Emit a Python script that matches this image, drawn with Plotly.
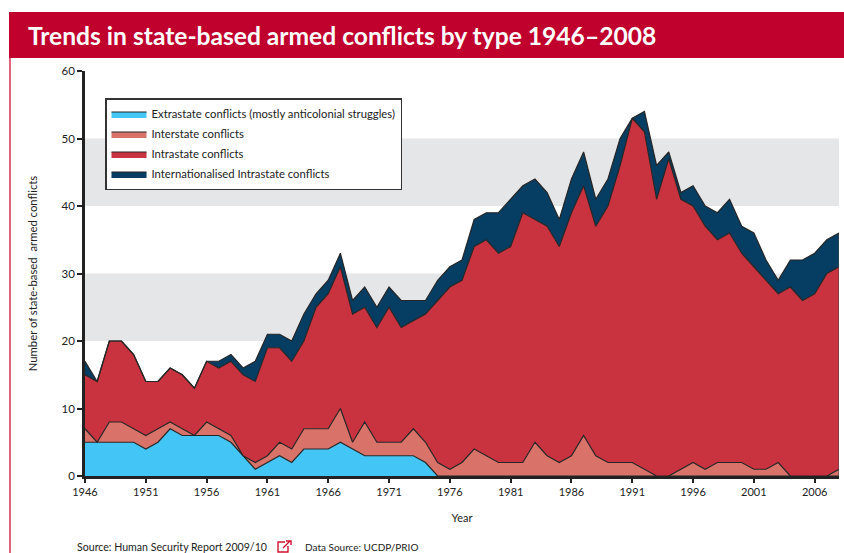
import plotly.graph_objects as go

years = list(range(1946, 2009))
extrastate = [5,5,5,5,5,4,5,7,6,6,6,6,5,3,1,2,3,2,4,4,4,5,4,3,3,3,3,3,2,0] + [0] * 33
interstate = [2,0,3,3,2,2,2,1,1,0,2,1,1,0,1,1,2,2,3,3,3,5,1,5,2,2,2,4,3,2,1,2,4,3,2,2,2,5,3,2,3,6,3,2,2,2,1,0,0,1,2,1,2,2,2,1,1,2,0,0,0,0,1]
intrastate = [8,9,12,12,11,8,7,8,8,7,9,9,11,12,12,16,14,13,13,18,20,21,19,17,17,20,17,16,19,24,27,27,30,32,31,32,37,33,34,32,36,37,34,38,44,51,50,41,47,40,38,36,33,34,31,30,28,25,28,26,27,30,30]
internationalised = [2,0,0,0,0,0,0,0,0,0,0,1,1,1,3,2,2,3,4,2,2,2,2,3,3,3,4,3,2,3,3,3,4,4,6,7,4,6,5,4,5,5,4,4,4,0,3,5,1,1,3,3,4,5,4,5,3,2,4,6,6,5,5]
x_ticks = list(range(1946, 2007, 5))
y_ticks = [0, 10, 20, 30, 40, 50, 60]
bands = [(20, 30), (40, 50)]
series = [
    ("Extrastate conflicts (mostly anticolonial struggles)", extrastate, "#43C5F5"),
    ("Interstate conflicts", interstate, "#D9736A"),
    ("Intrastate conflicts", intrastate, "#C9323F"),
    ("Internationalised Intrastate conflicts", internationalised, "#063D63"),
]
title = "Trends in state-based armed conflicts by type 1946–2008"
source = "Source: Human Security Report 2009/10"
data_source = "Data Source: UCDP/PRIO"

W, H = 844, 553
L, R, T, B = 85, 839, 71, 476
FONT = "Lato, 'Noto Sans', sans-serif"
INK = "#222222"

def px(v):
    return (v - L) / (R - L)

def py(v):
    return (B - v) / (B - T)

fig = go.Figure()
for name, values, color in series:
    fig.add_trace(go.Scatter(
        x=years, y=values, name=name, mode="lines", stackgroup="one",
        legendgroup=name, fillcolor=color,
        line=dict(color="#262626", width=1.2),
    ))

shapes = []
for lo, hi in bands:
    shapes.append(dict(type="rect", xref="x", yref="y", x0=years[0], x1=years[-1], y0=lo, y1=hi,
                       fillcolor="#E5E6E8", line_width=0, layer="below"))
# header band and left rule
shapes.append(dict(type="rect", xref="paper", yref="paper", x0=px(9), x1=px(844), y0=py(12), y1=py(58),
                   fillcolor="#C0002D", line_width=0))
shapes.append(dict(type="line", xref="paper", yref="paper", x0=px(10), x1=px(10), y0=py(58), y1=py(553),
                   line=dict(color="#E3647F", width=2)))
# right edge of the stack
total_last = extrastate[-1] + interstate[-1] + intrastate[-1] + internationalised[-1]
shapes.append(dict(type="line", xref="x", yref="y", x0=years[-1], x1=years[-1], y0=0, y1=total_last,
                   line=dict(color="#4a4a4a", width=1)))
# external-link icon
shapes.append(dict(type="path", xref="paper", yref="paper",
                   path=f"M {px(285)} {py(542)} L {px(278)} {py(542)} L {px(278)} {py(552)} L {px(288)} {py(552)} L {px(288)} {py(546)}",
                   line=dict(color="#D2122E", width=1.4)))
shapes.append(dict(type="path", xref="paper", yref="paper",
                   path=f"M {px(283)} {py(548)} L {px(290)} {py(541)} M {px(286)} {py(541)} L {px(291)} {py(541)} L {px(291)} {py(545)}",
                   line=dict(color="#D2122E", width=1.4)))

annotations = [
    dict(text=f"<b>{title}</b>", xref="paper", yref="paper", x=px(26), y=py(35), xanchor="left", yanchor="middle",
         showarrow=False, font=dict(family=FONT, size=24.6, color="white")),
    dict(text=source, xref="paper", yref="paper", x=px(75), y=py(546.5), xanchor="left", yanchor="middle",
         showarrow=False, font=dict(family=FONT, size=10.6, color=INK)),
    dict(text=data_source, xref="paper", yref="paper", x=px(303), y=py(546.5), xanchor="left", yanchor="middle",
         showarrow=False, font=dict(family=FONT, size=10, color=INK)),
]

fig.update_layout(
    width=W, height=H, autosize=False,
    margin=dict(l=L, r=W - R, t=T, b=H - B, pad=0),
    paper_bgcolor="white", plot_bgcolor="white",
    font=dict(family=FONT, size=11, color=INK),
    shapes=shapes, annotations=annotations,
    legend=dict(
        x=px(105), y=py(98), xanchor="left", yanchor="top", traceorder="grouped",
        bordercolor="#333333", borderwidth=1.5, bgcolor="white", tracegroupgap=1,
        font=dict(family=FONT, size=11.3, color=INK), itemwidth=35,
    ),
    xaxis=dict(
        range=[years[0], years[-1]], tickmode="array", tickvals=x_ticks,
        ticks="outside", ticklen=4, tickwidth=1.5, tickcolor=INK,
        showline=True, linecolor=INK, linewidth=2.5, showgrid=False, zeroline=False,
        tickfont=dict(family=FONT, size=11, color=INK),
        title=dict(text="Year", standoff=18, font=dict(family=FONT, size=11, color=INK)),
    ),
    yaxis=dict(
        range=[0, 60], tickmode="array", tickvals=y_ticks,
        ticks="outside", ticklen=5, tickwidth=1.5, tickcolor=INK,
        showline=True, linecolor=INK, linewidth=2.5, showgrid=False, zeroline=False,
        tickfont=dict(family=FONT, size=11.5, color=INK),
        title=dict(text="Number of state-based  armed conflicts", standoff=22, font=dict(family=FONT, size=11.3, color=INK)),
    ),
)
fig.write_html("out.html", config={"displayModeBar": False},
               post_script="document.body.style.margin='0';document.body.style.overflow='hidden';")
